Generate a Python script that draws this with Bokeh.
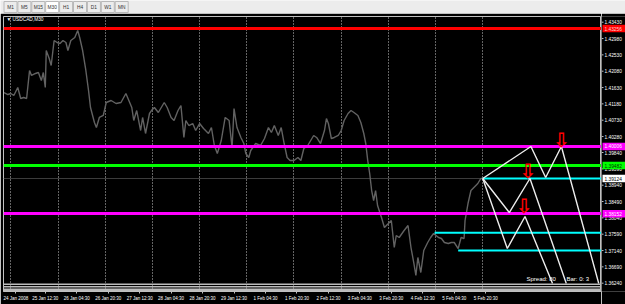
from bokeh.plotting import figure
from bokeh.layouts import column, row
from bokeh.models import FixedTicker, Label, Range1d
from bokeh.core.properties import value
from bokeh.embed import file_html
from bokeh.resources import INLINE

# ---------------- data ----------------
tab_labels = ["M1", "M5", "M15", "M30", "H1", "H4", "D1", "W1", "MN"]
active_tab = "M30"
symbol_title = "\u25bc USDCAD,M30"

bars = [0, 4, 7, 10, 14, 17, 20, 23, 26, 28,
        32, 35, 38, 40, 42, 43, 46, 48, 51, 54,
        57, 60, 63, 65, 68, 72, 75, 77, 80, 83,
        86, 88, 92, 94, 97, 101, 104, 109, 114, 119,
        124, 127, 130, 132, 135, 139, 141, 144, 148, 150,
        153, 157, 160, 163, 166, 170, 173, 177, 180, 183,
        185, 188, 192, 195, 199, 203, 208, 211, 214, 217,
        221, 225, 229, 232, 234, 237, 241, 244, 246, 249,
        251, 256, 261, 265, 269, 272, 275, 279, 282, 285,
        288, 291, 295, 299, 302, 305, 309, 312, 315, 318,
        322, 326, 328, 330, 333, 336, 340, 343, 346, 350,
        353, 356, 360, 363, 366, 368, 370, 372, 374, 376,
        378, 380, 384, 387, 391, 394, 397, 399, 402, 407,
        411, 414, 417, 419, 421, 424, 427, 431, 434, 437,
        442, 445, 448, 452, 455, 458, 462, 465, 468, 469,
        472, 475, 478, 482, 485, 487]

closes = [1.41493, 1.41438, 1.41466, 1.41411, 1.41631, 1.41328, 1.41356, 1.41328, 1.42099, 1.41962,
          1.42017, 1.42044, 1.41824, 1.42044, 1.41631, 1.42650, 1.42430, 1.42237, 1.42926, 1.42871,
          1.42843, 1.42926, 1.42871, 1.42650, 1.42926, 1.43009, 1.43201, 1.43009, 1.42650, 1.42154,
          1.41548, 1.41080, 1.40667, 1.40529, 1.40805, 1.40860, 1.41218, 1.41273, 1.41190, 1.41218,
          1.41466, 1.41273, 1.41080, 1.40722, 1.40997, 1.40446, 1.40805, 1.40364, 1.40915, 1.40997,
          1.41080, 1.40942, 1.41080, 1.41218, 1.41080, 1.40805, 1.40722, 1.40997, 1.41135, 1.40254,
          1.40722, 1.40584, 1.40639, 1.40446, 1.40639, 1.40501, 1.40364, 1.40529, 1.40033, 1.39813,
          1.40171, 1.40805, 1.40722, 1.39978, 1.41052, 1.40529, 1.40254, 1.40088, 1.39813, 1.39703,
          1.39895, 1.40088, 1.40033, 1.40226, 1.40529, 1.40391, 1.40584, 1.40309, 1.40529, 1.40088,
          1.39703, 1.39620, 1.39620, 1.39703, 1.39620, 1.39950, 1.40033, 1.40171, 1.40309, 1.40254,
          1.40088, 1.40446, 1.40777, 1.40639, 1.40226, 1.40254, 1.40309, 1.40446, 1.40722, 1.40915,
          1.40997, 1.40942, 1.40860, 1.40667, 1.40364, 1.40088, 1.39620, 1.39262, 1.38793, 1.38518,
          1.38793, 1.38380, 1.38050, 1.37774, 1.37884, 1.37967, 1.37223, 1.37554, 1.37499, 1.37691,
          1.37829, 1.37223, 1.36782, 1.36452, 1.36948, 1.36534, 1.37140, 1.37361, 1.37499, 1.37609,
          1.37499, 1.37471, 1.37361, 1.37333, 1.37361, 1.37361, 1.37195, 1.37499, 1.37471, 1.37967,
          1.38435, 1.38793, 1.38876, 1.38986, 1.39124, 1.39124]

# horizontal level lines (full width)
level_prices = [1.43256, 1.40006, 1.39482, 1.38152]
level_colors = ["#ff0000", "#ff00ff", "#00ff00", "#ff00ff"]
level_text_colors = ["#ffd0d0", "#ffffff", "#003000", "#ffffff"]
bid_price = 1.39124

# cyan lines starting at a bar
cyan_start_bars = [487, 438, 462]
cyan_prices = [1.39124, 1.37628, 1.37140]

# projected zigzag paths
zig_a_bars = [487, 536, 551, 567, 605]
zig_a_prices = [1.39124, 1.40006, 1.39152, 1.40006, 1.36231]
zig_b_bars = [487, 514, 535, 572]
zig_b_prices = [1.39124, 1.38187, 1.39124, 1.36231]
zig_c_bars = [487, 512, 530, 558]
zig_c_prices = [1.39124, 1.37195, 1.38077, 1.36231]

# sell arrows
arrow_bars = [567, 533, 529]
arrow_prices = [1.40198, 1.39317, 1.38380]

# bottom separator stripes
stripe_prices = [1.36210, 1.36140, 1.36070, 1.36030]

# axes
price_ticks = [1.43430, 1.42980, 1.42530, 1.42080, 1.41630, 1.41180, 1.40730, 1.40280, 1.39840,
               1.39390, 1.38940, 1.38490, 1.38040, 1.37590, 1.37140, 1.36690, 1.36240]
time_tick_bars = [12, 42, 74, 106, 138, 170, 202, 234, 266, 298, 330, 362, 394, 426, 458, 490]
time_tick_labels = ["24 Jan 2008", "25 Jan 12:30", "26 Jan 04:30", "26 Jan 20:30", "27 Jan 12:30",
                    "28 Jan 04:30", "28 Jan 20:30", "29 Jan 12:30", "1 Feb 04:30", "1 Feb 20:30",
                    "2 Feb 12:30", "3 Feb 04:30", "3 Feb 20:30", "4 Feb 12:30", "5 Feb 04:30",
                    "5 Feb 20:30"]
grid_bars = [7, 55, 103, 151, 199, 247, 295, 343, 391, 439, 487]

spread_text = "Spread: 80"
bar_text = "Bar: 0: 3"

FONT = "Liberation Sans"
TOP, BOTTOM = 3, 13
X0, X1 = -0.5, 607.8

# ---------------- tab bar ----------------
tp = figure(width=625, height=13, x_range=Range1d(0, 625), y_range=Range1d(0, 13),
            output_backend="svg", toolbar_location=None,
            x_axis_location=None, y_axis_location=None, min_border=0)
tp.grid.visible = False
tp.outline_line_color = None
tp.background_fill_color = "#ececec"
tp.border_fill_color = "#ececec"
tab_idx = list(range(len(tab_labels)))
tab_x = [10 + 13.9 * i for i in tab_idx]
tab_fill = ["#ffffff" if t == active_tab else "#ececec" for t in tab_labels]
tp.rect(x=tab_x, y=6.5, width=13, height=11, fill_color=tab_fill, line_color="#b8b8b8", line_width=1)
tp.text(x=tab_x, y=6.3, text=tab_labels, text_font=value(FONT), text_font_size="4.8px",
        text_align="center", text_baseline="middle", text_color="#303030")

# ---------------- main chart ----------------
p = figure(width=601, height=291,
           x_range=Range1d(X0, X1), y_range=Range1d(1.36011, 1.43587),
           output_backend="svg", toolbar_location=None,
           x_axis_location="below", y_axis_location=None,
           min_border_left=3, min_border_right=0, min_border_top=TOP, min_border_bottom=BOTTOM)
p.background_fill_color = "#000000"
p.border_fill_color = "#000000"
p.outline_line_color = "#c0c0c0"

p.ygrid.visible = False
p.xgrid.ticker = FixedTicker(ticks=grid_bars)
p.xgrid.grid_line_color = "#c8c8c8"
p.xgrid.grid_line_dash = "1 2"
p.xgrid.grid_line_width = 1

xa = p.xaxis[0]
xa.ticker = FixedTicker(ticks=time_tick_bars)
xa.major_label_overrides = {b: t for b, t in zip(time_tick_bars, time_tick_labels)}
xa.major_label_text_color = "#ffffff"
xa.major_label_text_font = FONT
xa.major_label_text_font_size = "4.5px"
xa.axis_line_color = "#c0c0c0"
xa.major_tick_line_color = "#c0c0c0"
xa.major_tick_out = 2
xa.major_tick_in = 0
xa.minor_tick_line_color = None
xa.major_label_standoff = 2

# bid line
p.hspan(y=[bid_price], line_color="#3c3c3c", line_width=1)

# price series
p.line(bars, closes, line_color="#626262", line_width=1.4)

# level lines
p.hspan(y=level_prices, line_color=level_colors, line_width=3)

# cyan lines
p.ray(x=cyan_start_bars, y=cyan_prices, length=0, angle=0, line_color="#00ffff", line_width=2)

# zigzags
for zx, zy in [(zig_a_bars, zig_a_prices), (zig_b_bars, zig_b_prices), (zig_c_bars, zig_c_prices)]:
    p.line(zx, zy, line_color="#ececec", line_width=1.4)

# bottom stripes
n_str = len(stripe_prices)
p.segment(x0=[X0] * n_str, x1=[X1] * n_str, y0=stripe_prices, y1=stripe_prices,
          line_color="#bcbcbc", line_width=1.6)

# arrows
p.text(x=arrow_bars, y=arrow_prices, text=["\u21e9"] * len(arrow_bars),
       text_font=value("DejaVu Sans"), text_font_size="20px", text_font_style="bold",
       text_color="#ff0000", text_align="center", text_baseline="middle")

# texts
p.add_layout(Label(x=3, y=272, x_units="screen", y_units="screen", text=symbol_title,
                   text_font=FONT, text_font_size="4.8px", text_color="#ffffff",
                   text_baseline="middle"))
p.add_layout(Label(x=523, y=13, x_units="screen", y_units="screen", text=spread_text,
                   text_font=FONT, text_font_size="6px", text_color="#ffffff",
                   text_baseline="middle"))
p.add_layout(Label(x=563, y=13, x_units="screen", y_units="screen", text=bar_text,
                   text_font=FONT, text_font_size="6px", text_color="#ffffff",
                   text_baseline="middle"))

# ---------------- price scale panel ----------------
pa = figure(width=24, height=291, x_range=Range1d(0, 24), y_range=p.y_range,
            output_backend="svg", toolbar_location=None,
            x_axis_location=None, y_axis_location=None,
            min_border_left=0, min_border_right=0, min_border_top=TOP, min_border_bottom=BOTTOM)
pa.grid.visible = False
pa.outline_line_color = None
pa.background_fill_color = "#000000"
pa.border_fill_color = "#000000"

tick_text = [f"{t:.5f}" for t in price_ticks]
pa.segment(x0=0, x1=2, y0=price_ticks, y1=price_ticks, line_color="#c0c0c0", line_width=1)
pa.text(x=3, y=price_ticks, text=tick_text, text_font=value(FONT), text_font_size="4.8px",
        text_color="#ffffff", text_baseline="middle", text_align="left")

tag_prices = level_prices + [bid_price]
tag_colors = level_colors + ["#ffffff"]
tag_text_colors = level_text_colors + ["#000000"]
tag_text = [f"{v:.5f}" for v in tag_prices]
pa.rect(x=12.5, y=tag_prices, width=23, height=7.5, height_units="screen",
        fill_color=tag_colors, line_color=None)
pa.text(x=3, y=tag_prices, text=tag_text, text_font=value(FONT), text_font_size="4.8px",
        text_color=tag_text_colors, text_baseline="middle", text_align="left")

layout = column(tp, row(p, pa, spacing=0), spacing=0)
open("out.html", "w").write(file_html(layout, INLINE))
